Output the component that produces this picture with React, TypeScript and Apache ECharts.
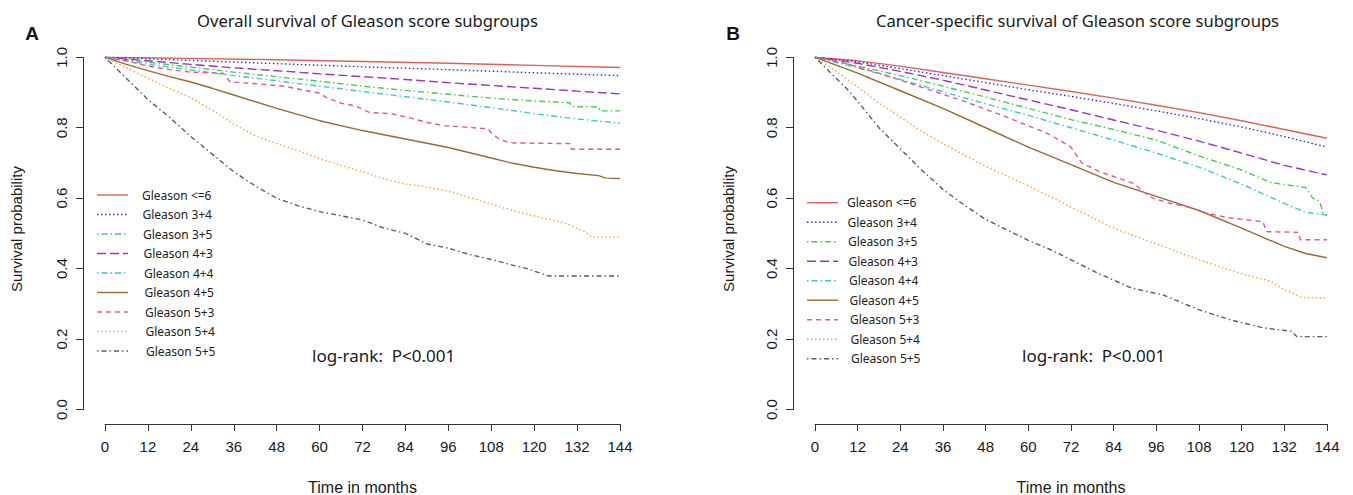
import React, { useEffect, useRef } from "react";
import * as echarts from "echarts";

// ---------- categories / labels ----------
const groups = [
  "Gleason <=6",
  "Gleason 3+4",
  "Gleason 3+5",
  "Gleason 4+3",
  "Gleason 4+4",
  "Gleason 4+5",
  "Gleason 5+3",
  "Gleason 5+4",
  "Gleason 5+5",
];
const panelTitles = [
  "Overall survival of Gleason score subgroups",
  "Cancer-specific survival of Gleason score subgroups",
];
const panelLetters = ["A", "B"];
const xTitle = "Time in months";
const yTitle = "Survival probability";
const testText = "log-rank:  P<0.001";

// ---------- Panel A: overall survival [month, probability] ----------
const osLe6 = [[0, 1], [24, 0.997], [48, 0.993], [72, 0.988], [96, 0.983], [120, 0.977], [144, 0.971]];
const os34 = [[0, 1], [12, 0.996], [24, 0.991], [48, 0.982], [72, 0.973], [96, 0.965], [120, 0.956], [144, 0.948]];
const os35 = [[0, 1], [6, 0.993], [12, 0.986], [24, 0.972], [36, 0.958], [48, 0.945], [60, 0.932], [72, 0.918], [84, 0.906], [96, 0.895], [108, 0.884], [120, 0.876], [130, 0.871], [130.5, 0.86], [138, 0.859], [138.5, 0.848], [144, 0.848]];
const os43 = [[0, 1], [12, 0.99], [24, 0.98], [36, 0.97], [48, 0.962], [60, 0.953], [72, 0.945], [84, 0.937], [96, 0.928], [108, 0.92], [120, 0.912], [132, 0.904], [144, 0.896]];
const os44 = [[0, 1], [6, 0.99], [12, 0.98], [24, 0.964], [36, 0.948], [48, 0.933], [60, 0.918], [72, 0.903], [84, 0.888], [96, 0.873], [108, 0.857], [120, 0.84], [132, 0.825], [144, 0.813]];
const os45 = [[0, 1], [6, 0.98], [12, 0.962], [18, 0.945], [24, 0.93], [30, 0.912], [36, 0.893], [48, 0.855], [60, 0.82], [72, 0.792], [84, 0.768], [96, 0.744], [108, 0.714], [114, 0.699], [120, 0.688], [126, 0.678], [132, 0.67], [138, 0.664], [140, 0.657], [144, 0.656]];
const os53 = [[0, 1], [6, 0.99], [12, 0.975], [18, 0.965], [24, 0.958], [33, 0.955], [35, 0.93], [42, 0.925], [50, 0.918], [54, 0.91], [60, 0.898], [62, 0.885], [66, 0.87], [70, 0.862], [74, 0.843], [80, 0.84], [86, 0.826], [90, 0.815], [95, 0.806], [107, 0.797], [108.5, 0.78], [110, 0.77], [113, 0.757], [130, 0.755], [130.5, 0.739], [144, 0.739]];
const os54 = [[0, 1], [6, 0.97], [12, 0.94], [18, 0.912], [24, 0.885], [30, 0.85], [36, 0.81], [42, 0.777], [48, 0.755], [54, 0.735], [60, 0.712], [66, 0.693], [72, 0.675], [78, 0.655], [84, 0.64], [90, 0.632], [96, 0.62], [102, 0.602], [108, 0.583], [114, 0.565], [120, 0.55], [126, 0.535], [130, 0.524], [134, 0.505], [136, 0.49], [144, 0.49]];
const os55 = [[0, 1], [3, 0.97], [6, 0.94], [9, 0.91], [12, 0.88], [18, 0.83], [24, 0.775], [30, 0.725], [36, 0.675], [42, 0.635], [48, 0.6], [54, 0.578], [60, 0.562], [66, 0.55], [72, 0.538], [78, 0.515], [84, 0.5], [90, 0.47], [96, 0.458], [102, 0.44], [108, 0.426], [114, 0.41], [118, 0.4], [124, 0.379], [144, 0.379]];

// ---------- Panel B: cancer-specific survival [month, probability] ----------
const cssLe6 = [[0, 1], [12, 0.99], [24, 0.975], [36, 0.957], [48, 0.939], [60, 0.921], [72, 0.903], [84, 0.884], [96, 0.864], [108, 0.843], [120, 0.82], [132, 0.795], [144, 0.77]];
const css34 = [[0, 1], [12, 0.987], [24, 0.968], [36, 0.948], [48, 0.928], [60, 0.908], [72, 0.889], [84, 0.869], [96, 0.848], [108, 0.826], [120, 0.802], [132, 0.775], [144, 0.745]];
const css35 = [[0, 1], [12, 0.975], [24, 0.948], [36, 0.918], [48, 0.887], [60, 0.855], [72, 0.823], [84, 0.795], [96, 0.765], [108, 0.72], [120, 0.68], [128, 0.645], [138, 0.63], [140, 0.6], [142, 0.59], [143, 0.552], [144, 0.552]];
const css43 = [[0, 1], [12, 0.983], [24, 0.96], [36, 0.935], [48, 0.907], [60, 0.879], [72, 0.851], [84, 0.822], [96, 0.793], [108, 0.762], [120, 0.728], [132, 0.693], [144, 0.666]];
const css44 = [[0, 1], [12, 0.97], [24, 0.937], [36, 0.902], [48, 0.868], [60, 0.835], [72, 0.8], [84, 0.765], [96, 0.728], [108, 0.688], [120, 0.64], [132, 0.585], [138, 0.56], [144, 0.552]];
const css45 = [[0, 1], [12, 0.955], [24, 0.905], [36, 0.855], [48, 0.8], [60, 0.745], [72, 0.695], [84, 0.645], [96, 0.605], [108, 0.565], [120, 0.515], [132, 0.463], [138, 0.443], [144, 0.431]];
const css53 = [[0, 1], [6, 0.99], [12, 0.972], [18, 0.955], [24, 0.935], [30, 0.915], [36, 0.895], [42, 0.875], [48, 0.852], [54, 0.83], [60, 0.805], [64, 0.79], [67, 0.775], [72, 0.745], [75, 0.7], [80, 0.675], [86, 0.655], [90, 0.64], [92, 0.62], [95, 0.6], [100, 0.585], [105, 0.575], [110, 0.558], [116, 0.545], [126, 0.533], [127, 0.505], [136, 0.503], [136.5, 0.482], [144, 0.482]];
const css54 = [[0, 1], [6, 0.96], [12, 0.915], [18, 0.87], [24, 0.83], [30, 0.79], [36, 0.755], [48, 0.69], [60, 0.635], [72, 0.575], [84, 0.515], [96, 0.47], [108, 0.425], [120, 0.385], [128, 0.365], [132, 0.34], [137, 0.318], [144, 0.316]];
const css55 = [[0, 1], [3, 0.97], [6, 0.94], [9, 0.91], [12, 0.875], [18, 0.8], [24, 0.74], [30, 0.68], [36, 0.625], [42, 0.58], [48, 0.54], [54, 0.51], [60, 0.48], [66, 0.455], [72, 0.425], [80, 0.385], [89, 0.345], [98, 0.325], [108, 0.283], [117, 0.254], [126, 0.232], [134, 0.222], [135.5, 0.207], [144, 0.207]];

const panelData = [
  [osLe6, os34, os35, os43, os44, os45, os53, os54, os55],
  [cssLe6, css34, css35, css43, css44, css45, css53, css54, css55],
];

// ---------- styles ----------
const colors = ["#e2605c", "#2f2fdc", "#45cf45", "#9a34cc", "#3ec8c8", "#9c6a30", "#e8559a", "#f4a142", "#4e6363"];
const dashes: any[] = ["solid", [1.5, 2.5], [1.5, 3, 6, 3], [9, 4], [1.5, 3, 6, 3], "solid", [5, 4], [1.5, 2.5], [1.5, 3, 5, 3]];

const W = 1353;
const H = 495;
const panels = [
  { left: 105, width: 515, yAxisX: 83, legendLineX: 97, legendTextX: 142, legendTop: 195, yTitleX: 16, titleX: 367.5, letterX: 32, testX: 312 },
  { left: 815, width: 512, yAxisX: 793, legendLineX: 807, legendTextX: 847, legendTop: 202.7, yTitleX: 728, titleX: 1077.5, letterX: 733, testX: 1022 },
];
const gridTop = 57.3;
const gridHeight = 352.2;
const axisFont = "'Liberation Sans', Arial, sans-serif";
const labelFont = "'Noto Sans', 'Open Sans', sans-serif";

export default function App() {
  const ref = useRef<HTMLDivElement>(null);
  useEffect(() => {
    document.body.style.margin = "0";
    if (!ref.current) return;
    const chart = echarts.init(ref.current, undefined, { renderer: "svg" });

    const grid = panels.map((p) => ({ left: p.left, width: p.width, top: gridTop, height: gridHeight }));
    const xAxis = panels.map((p, i) => ({
      gridIndex: i,
      type: "value",
      min: 0,
      max: 144,
      interval: 12,
      offset: 14.5,
      axisLine: { show: true, onZero: false, lineStyle: { color: "#333", width: 1 } },
      axisTick: { show: true, length: 7, lineStyle: { color: "#333", width: 1 } },
      axisLabel: { fontFamily: axisFont, fontSize: 15, color: "#1a1a1a", margin: 15 },
      splitLine: { show: false },
    }));
    const yAxis = panels.map((p, i) => ({
      gridIndex: i,
      type: "value",
      min: 0,
      max: 1,
      interval: 0.2,
      offset: p.left - p.yAxisX,
      axisLine: { show: true, onZero: false, lineStyle: { color: "#333", width: 1 } },
      axisTick: { show: true, length: 7, lineStyle: { color: "#333", width: 1 } },
      axisLabel: {
        fontFamily: axisFont,
        fontSize: 15,
        color: "#1a1a1a",
        margin: 14,
        rotate: 90,
        formatter: (v: number) => v.toFixed(1),
      },
      splitLine: { show: false },
    }));

    const series: any[] = [];
    panelData.forEach((curves, pi) => {
      curves.forEach((d, gi) => {
        series.push({
          type: "line",
          name: groups[gi],
          xAxisIndex: pi,
          yAxisIndex: pi,
          data: d,
          showSymbol: false,
          symbol: "none",
          lineStyle: { color: colors[gi], width: 1.4, type: dashes[gi] },
          emphasis: { disabled: true },
          silent: true,
        });
      });
    });

    const graphic: any[] = [];
    panels.forEach((p, pi) => {
      graphic.push({
        type: "text",
        x: p.titleX,
        y: 20,
        style: { text: panelTitles[pi], font: `16.6px ${labelFont}`, fill: "#1a1a1a", align: "center", verticalAlign: "middle" },
      });
      graphic.push({
        type: "text",
        x: p.letterX,
        y: 33,
        style: { text: panelLetters[pi], font: `bold 19px ${axisFont}`, fill: "#111", align: "center", verticalAlign: "middle" },
      });
      graphic.push({
        type: "text",
        x: p.yTitleX,
        y: 229,
        rotation: Math.PI / 2,
        style: { text: yTitle, font: `15px ${axisFont}`, fill: "#1a1a1a", align: "center", verticalAlign: "middle" },
      });
      graphic.push({
        type: "text",
        x: p.left + p.width / 2,
        y: 487,
        style: { text: xTitle, font: `16px ${axisFont}`, fill: "#1a1a1a", align: "center", verticalAlign: "middle" },
      });
      graphic.push({
        type: "text",
        x: p.testX,
        y: 355,
        style: { text: testText, font: `17px ${labelFont}`, fill: "#1a1a1a", align: "left", verticalAlign: "middle" },
      });
      groups.forEach((g, gi) => {
        const y = p.legendTop + gi * 19.5;
        graphic.push({
          type: "line",
          shape: { x1: p.legendLineX, y1: y, x2: p.legendLineX + 31, y2: y },
          style: {
            stroke: colors[gi],
            lineWidth: 1.4,
            lineDash: dashes[gi] === "solid" ? null : dashes[gi],
          },
        });
        graphic.push({
          type: "text",
          x: p.legendTextX + gi * 0.5,
          y,
          style: { text: g, font: `12px ${labelFont}`, fill: "#222", align: "left", verticalAlign: "middle" },
        });
      });
    });

    chart.setOption({
      animation: false,
      backgroundColor: "#ffffff",
      grid,
      xAxis,
      yAxis,
      series,
      graphic,
    });
    return () => chart.dispose();
  }, []);
  return <div ref={ref} style={{ width: W, height: H }} />;
}
